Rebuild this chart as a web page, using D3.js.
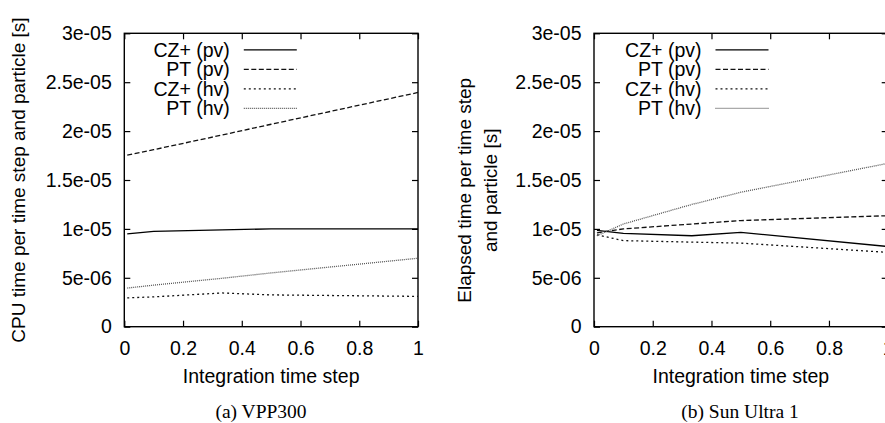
<!DOCTYPE html>
<html>
<head>
<meta charset="utf-8">
<script src="https://cdn.jsdelivr.net/npm/d3@7"></script>
<style>
  html, body { margin: 0; padding: 0; background: #fff; overflow: hidden; }
  svg { display: block; }
  text { font-family: "Liberation Sans", Arial, sans-serif; fill: #000; }
  .caption { font-family: "Liberation Serif", "Times New Roman", serif; }
</style>
</head>
<body>
<div id="chart"></div>
<script>
// data
const timeSteps = [0.01, 0.1, 0.333, 0.5, 1];
const seriesNames = ['CZ+ (pv)', 'PT (pv)', 'CZ+ (hv)', 'PT (hv)'];

// (a) VPP300 - CPU time
const vppCzPv = [9.5e-6, 9.75e-6, 9.9e-6, 1.0e-5, 1.0e-5];
const vppPtPv = [1.755e-5, 1.81e-5, 1.96e-5, 2.07e-5, 2.395e-5];
const vppCzHv = [2.95e-6, 3.05e-6, 3.45e-6, 3.25e-6, 3.1e-6];
const vppPtHv = [3.95e-6, 4.25e-6, 4.95e-6, 5.5e-6, 7.0e-6];

// (b) Sun Ultra 1 - elapsed time
const sunCzPv = [9.85e-6, 9.55e-6, 9.3e-6, 9.65e-6, 8.2e-6];
const sunPtPv = [9.6e-6, 1.0e-5, 1.05e-5, 1.085e-5, 1.135e-5];
const sunCzHv = [9.4e-6, 8.8e-6, 8.65e-6, 8.55e-6, 7.6e-6];
const sunPtHv = [9.3e-6, 1.05e-5, 1.25e-5, 1.375e-5, 1.67e-5];

const xTicks = [0, 0.2, 0.4, 0.6, 0.8, 1];
const xTickLabels = ['0', '0.2', '0.4', '0.6', '0.8', '1'];
const yTicks = [0, 5e-6, 1e-5, 1.5e-5, 2e-5, 2.5e-5, 3e-5];
const yTickLabels = ['0', '5e-06', '1e-05', '1.5e-05', '2e-05', '2.5e-05', '3e-05'];

// gnuplot-ish line types
const dashes = [null, '5,2.5', '2,3', '1,1'];
const strokes = ['#000', '#111', '#111', '#555'];

const FS = 19.5;
const W = 885, H = 423;
const svg = d3.select('#chart').append('svg')
    .attr('width', W)
    .attr('height', H);

function LinePlot(g, opts) {
    const w = opts.w, h = opts.h;
    const plot = g.append('g')
        .attr('transform', `translate(${opts.l},${opts.t})`);

    const x = d3.scaleLinear().domain([0, 1]).range([0, w]);
    const y = d3.scaleLinear().domain([0, 3e-5]).range([h, 0]);

    // axes with inward ticks, mirrored on top/right
    const axisX = d3.axisBottom(x).tickValues(xTicks)
        .tickFormat((d, i) => xTickLabels[i])
        .tickSizeInner(-6).tickSizeOuter(0).tickPadding(14.5);
    const axisY = d3.axisLeft(y).tickValues(yTicks)
        .tickFormat((d, i) => yTickLabels[i])
        .tickSizeInner(-6).tickSizeOuter(0).tickPadding(12.5);

    const gx = plot.append('g').attr('transform', `translate(0,${h})`).call(axisX);
    const gy = plot.append('g').call(axisY);
    plot.append('g').call(d3.axisTop(x).tickValues(xTicks).tickFormat('').tickSizeInner(-6).tickSizeOuter(0));
    plot.append('g').attr('transform', `translate(${w},0)`)
        .call(d3.axisRight(y).tickValues(yTicks).tickFormat('').tickSizeInner(-6).tickSizeOuter(0));

    plot.selectAll('.domain').remove();
    plot.selectAll('.tick line').attr('stroke', '#000').attr('stroke-width', 1.2);
    gx.selectAll('text').attr('font-size', FS).attr('font-family', null);
    gy.selectAll('text').attr('font-size', FS).attr('font-family', null);

    // frame
    plot.append('rect')
        .attr('width', w).attr('height', h)
        .attr('fill', 'none').attr('stroke', '#000').attr('stroke-width', 1.4);

    const line = d3.line()
        .x((d, i) => x(timeSteps[i]))
        .y(d => y(d));

    plot.selectAll('.series')
        .data(opts.series)
        .join('path')
        .attr('class', 'series')
        .attr('d', d => line(d))
        .attr('fill', 'none')
        .attr('stroke', (d, i) => strokes[i])
        .attr('stroke-width', 1.3)
        .attr('stroke-dasharray', (d, i) => dashes[i]);

    // legend (top left, text right-aligned)
    const leg = plot.selectAll('.leg')
        .data(seriesNames)
        .join('g')
        .attr('class', 'leg')
        .attr('transform', (d, i) => `translate(0,${16.5 + i * 19.5})`);
    leg.append('text')
        .attr('x', opts.legText)
        .attr('dy', '0.35em')
        .attr('text-anchor', 'end')
        .attr('font-size', FS)
        .text(d => d);
    leg.append('line')
        .attr('x1', opts.legText + 14).attr('x2', opts.legText + 67)
        .attr('stroke', (d, i) => strokes[i])
        .attr('stroke-width', 1.3)
        .attr('stroke-dasharray', (d, i) => dashes[i]);

    // x title
    plot.append('text')
        .attr('x', w / 2).attr('y', h + 56.5)
        .attr('text-anchor', 'middle')
        .attr('font-size', FS)
        .text('Integration time step');

    // y title (one or more lines)
    opts.yTitle.forEach((t, i) => {
        plot.append('text')
            .attr('transform', `translate(${opts.yTitleX[i]},${opts.yTitleY}) rotate(-90)`)
            .attr('text-anchor', 'middle')
            .attr('font-size', 19)
            .text(t);
    });

    // caption
    g.append('text')
        .attr('class', 'caption')
        .attr('x', opts.capX).attr('y', 418)
        .attr('text-anchor', 'middle')
        .attr('font-size', 19.5)
        .text(opts.caption);
}

LinePlot(svg.append('g'), {
    l: 124.3, t: 33.3, w: 293.7, h: 293.4,
    series: [vppCzPv, vppPtPv, vppCzHv, vppPtHv],
    legText: 105.5,
    yTitle: ['CPU time per time step and particle [s]'],
    yTitleX: [-99], yTitleY: 146.7,
    caption: '(a) VPP300', capX: 261
});

LinePlot(svg.append('g'), {
    l: 594, t: 33.3, w: 293.7, h: 293.4,
    series: [sunCzPv, sunPtPv, sunCzHv, sunPtHv],
    legText: 107.5,
    yTitle: ['Elapsed time per time step', 'and particle [s]'],
    yTitleX: [-123, -97], yTitleY: 157,
    caption: '(b) Sun Ultra 1', capX: 740
});
</script>
</body>
</html>
